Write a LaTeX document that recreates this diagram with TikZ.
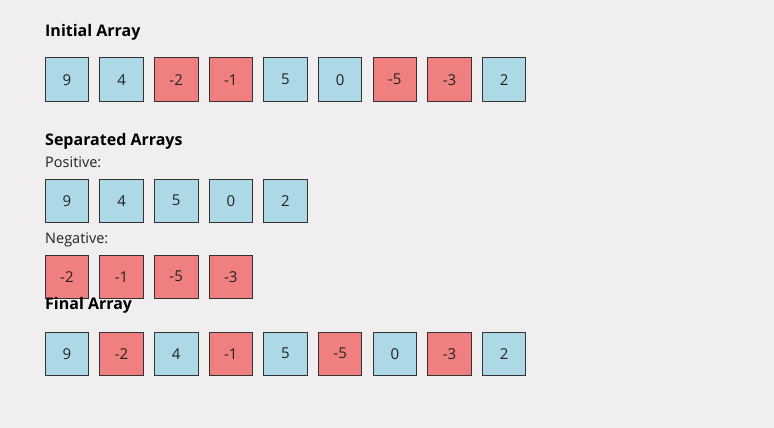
\documentclass[tikz,border=0pt]{standalone}
\usepackage{fontspec}
\setmainfont{Open Sans}
\definecolor{bgc}{HTML}{F0EEEE}
\definecolor{posc}{HTML}{ADD8E6}
\definecolor{negc}{HTML}{F08080}
\definecolor{edgec}{HTML}{333333}
\definecolor{txtc}{HTML}{222222}
\begin{document}
\begin{tikzpicture}[x=1pt,y=-1pt,
  cellbox/.style={draw=edgec,line width=0.9pt,minimum width=43.5pt,minimum height=43.5pt,inner sep=0pt,anchor=north west,font=\fontsize{15}{17}\selectfont,text=txtc},
  posbox/.style={cellbox,fill=posc},
  negbox/.style={cellbox,fill=negc},
  titletext/.style={anchor=west,inner sep=0pt,font=\fontsize{16}{19}\selectfont\bfseries},
  labtext/.style={anchor=west,inner sep=0pt,font=\fontsize{14.5}{17}\selectfont,text=txtc}]
\fill[bgc] (0,0) rectangle (774,428);
\useasboundingbox (0,0) rectangle (774,428);
\node[titletext] (t1) at (45,32) {Initial Array};
\foreach \v/\s [count=\i from 0] in {9/posbox,4/posbox,-2/negbox,-1/negbox,5/posbox,0/posbox,-5/negbox,-3/negbox,2/posbox}
  \node[\s] (a\i) at (44.7+54.65*\i,57.5) {\v};
\node[titletext] (t2) at (45,141) {Separated Arrays};
\node[labtext] (lp) at (45,162) {Positive:};
\foreach \v [count=\i from 0] in {9,4,5,0,2}
  \node[posbox] (p\i) at (44.7+54.65*\i,178.5) {\v};
\node[labtext] (ln) at (45,240) {Negative:};
\foreach \v [count=\i from 0] in {-2,-1,-5,-3}
  \node[negbox] (n\i) at (44.7+54.65*\i,254.5) {\v};
\node[titletext] (t3) at (45,305) {Final Array};
\foreach \v/\s [count=\i from 0] in {9/posbox,-2/negbox,4/posbox,-1/negbox,5/posbox,-5/negbox,0/posbox,-3/negbox,2/posbox}
  \node[\s] (f\i) at (44.7+54.65*\i,331.5) {\v};
\end{tikzpicture}
\end{document}
